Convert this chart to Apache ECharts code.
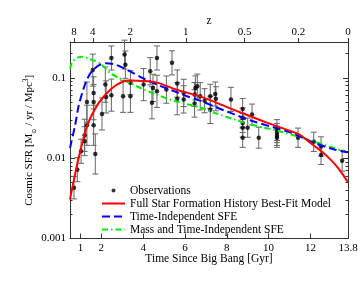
<!DOCTYPE html>
<html><head><meta charset="utf-8">
<script src="https://cdn.jsdelivr.net/npm/echarts@6/dist/echarts.min.js"></script>
<style>html,body{margin:0;padding:0;background:#fff}#c{width:363px;height:281px}</style>
</head><body><div id="c"></div>
<script>
// Observations: time [Gyr], SFR, error (dex)
const obsT=[0.69,0.85,1.03,1.20,1.20,1.31,1.31,1.63,1.63,1.63,1.59,1.71,2.03,2.19,2.23,2.48,2.48,3.04,3.11,3.15,3.39,3.39,
4.02,4.34,4.42,4.47,4.66,4.66,5.11,5.38,5.63,5.63,5.94,5.94,6.46,6.50,6.59,6.46,
6.73,6.94,7.21,7.21,7.45,7.48,8.20,8.76,8.76,8.76,8.76,8.76,9.00,9.21,9.53,
10.40,10.40,10.40,10.40,11.41,12.16,12.51,12.51,13.52];
const obsV=[0.0043,0.0072,0.0122,0.0163,0.0193,0.0257,0.050,0.050,0.065,0.0257,0.125,0.0113,0.0356,0.0825,0.058,0.177,0.061,0.059,0.195,0.146,0.087,0.059,
0.0825,0.121,0.049,0.075,0.177,0.068,0.0715,0.154,0.085,0.055,0.065,0.054,0.062,0.075,0.079,0.048,
0.059,0.052,0.059,0.040,0.063,0.055,0.054,0.041,0.032,0.0275,0.024,0.018,0.024,0.035,0.018,
0.0224,0.0206,0.019,0.018,0.018,0.016,0.014,0.011,0.0093];
const obsErr=[0.14,0.15,0.15,0.18,0.2,0.25,0.25,0.22,0.2,0.25,0.2,0.25,0.2,0.22,0.2,0.15,0.2,0.2,0.18,0.17,0.15,0.2,
0.2,0.17,0.2,0.17,0.15,0.2,0.17,0.15,0.17,0.2,0.17,0.17,0.15,0.15,0.15,0.17,
0.17,0.15,0.15,0.17,0.15,0.15,0.15,0.13,0.12,0.12,0.12,0.12,0.12,0.13,0.13,
0.13,0.12,0.12,0.12,0.12,0.12,0.12,0.12,0.13];

// Full Star Formation History Best-Fit Model
const fitT=[0.5,0.67,0.91,1.11,1.31,1.55,1.875,2.27,2.75,3.32,3.86,4.66,5.63,6.75,8.35,9.95,11.0,11.5,12.1,12.6,13.0,13.3,13.55,13.8];
const fitV=[0.00306,0.00515,0.0100,0.0163,0.0250,0.0348,0.0488,0.065,0.0825,0.0925,0.0918,0.0873,0.0708,0.0585,0.040,0.0275,0.0220,0.0196,0.0148,0.0118,0.0094,0.0077,0.0063,0.0050];
// Time-Independent SFE
const tiT=[0.5,0.75,0.91,1.11,1.31,1.55,1.875,2.2,2.6,3.0,3.4,4.0,4.8,5.5,6.1,6.83,7.4,9.15,11.07,12.12,13.15,13.8];
const tiV=[0.0134,0.0262,0.0444,0.0683,0.0952,0.121,0.143,0.152,0.148,0.135,0.12,0.099,0.08,0.068,0.059,0.051,0.044,0.0295,0.0208,0.0158,0.0128,0.0119];
// Mass and Time-Independent SFE
const mtiT=[0.5,0.59,0.74,0.89,1.07,1.46,1.94,2.42,2.9,3.38,4.02,4.66,5.46,6.26,6.83,7.38,8.99,10.59,12.19,13.48,13.8];
const mtiV=[0.13,0.154,0.172,0.180,0.183,0.171,0.152,0.115,0.098,0.086,0.072,0.0617,0.052,0.046,0.042,0.037,0.027,0.0214,0.0161,0.0125,0.0119];

// Axis ticks
const timeTicks=[1,2,4,6,8,10,12,13.8];
const zLabels=['8','4','2','1','0.5','0.2','0'];
const zTimes=[0.69,1.59,3.38,6.04,8.86,11.42,13.8];
const yMajor=[0.001,0.01,0.1];
const yMinor=[0.002,0.003,0.004,0.005,0.006,0.007,0.008,0.009,0.02,0.03,0.04,0.05,0.06,0.07,0.08,0.09,0.2];

const FONT='Liberation Serif';
const AX='#333';
const zip=(a,b)=>a.map((v,i)=>[v,b[i]]);

const errData=obsT.map((t,i)=>[t,obsV[i]*Math.pow(10,-obsErr[i]),obsV[i]*Math.pow(10,obsErr[i])]);

function yAx(pos,ticks,len,showLine,showLabel){
  return {type:'log',logBase:10,min:0.001,max:0.28,position:pos,
    axisLine:{show:showLine,lineStyle:{color:AX,width:1}},
    axisTick:{show:true,inside:true,length:len,customValues:ticks,lineStyle:{color:AX,width:1}},
    axisLabel:{show:showLabel,customValues:ticks,margin:4,fontFamily:FONT,fontSize:11,color:'#000',
      formatter:v=>String(+(+v).toPrecision(3))},
    splitLine:{show:false},minorTick:{show:false}};
}

const chart=echarts.init(document.getElementById('c'),null,{renderer:'canvas'});
const yMain=yAx('left',yMajor,5,true,true);
yMain.name='{a|Cosmic SFR [M}{s|⊙}{a| / yr / Mpc}{p|3}{a|]}';
yMain.nameLocation='middle';
yMain.nameGap=33;
yMain.nameMoveOverlap=false;
yMain.nameRotate=90;
yMain.nameTextStyle={fontFamily:FONT,color:'#000',rich:{
  a:{fontFamily:FONT,fontSize:11,color:'#000',lineHeight:15},
  s:{fontFamily:'DejaVu Sans',fontSize:6,color:'#000',lineHeight:8,verticalAlign:'bottom'},
  p:{fontFamily:FONT,fontSize:7.5,color:'#000',lineHeight:9,verticalAlign:'top'}}};

const hideSym={opacity:0};
chart.setOption({
  animation:false,
  backgroundColor:'#fff',
  grid:{left:70,right:15,top:42,bottom:42.5,containLabel:false},
  xAxis:[
    {type:'value',min:0.5,max:13.8,position:'bottom',
     axisLine:{show:true,onZero:false,lineStyle:{color:AX,width:1}},
     axisTick:{show:true,inside:true,length:5,customValues:timeTicks,lineStyle:{color:AX}},
     axisLabel:{customValues:timeTicks,margin:4,fontFamily:FONT,fontSize:11,color:'#000',formatter:v=>String(v)},
     splitLine:{show:false},
     name:'Time Since Big Bang [Gyr]',nameLocation:'middle',nameGap:14,nameMoveOverlap:false,
     nameTextStyle:{fontFamily:FONT,fontSize:11.5,color:'#000'}},
    {type:'value',min:0.5,max:13.8,position:'top',
     axisLine:{show:true,onZero:false,lineStyle:{color:AX,width:1}},
     axisTick:{show:true,inside:false,length:4,customValues:zTimes,lineStyle:{color:AX}},
     axisLabel:{customValues:zTimes,margin:4,fontFamily:FONT,fontSize:11,color:'#000',
       formatter:v=>{let bi=0;zTimes.forEach((z,i)=>{if(Math.abs(z-v)<Math.abs(zTimes[bi]-v))bi=i;});return zLabels[bi];}},
     splitLine:{show:false},
     name:'z',nameLocation:'middle',nameGap:15,nameMoveOverlap:false,
     nameTextStyle:{fontFamily:FONT,fontSize:11.5,color:'#000'}}
  ],
  yAxis:[yMain,yAx('left',yMinor,2.5,false,false),yAx('right',yMajor,5,true,false),yAx('right',yMinor,2.5,false,false)],
  legend:{orient:'vertical',left:96,top:179.5,itemWidth:23,itemHeight:12,itemGap:1,
    textStyle:{fontFamily:FONT,fontSize:11.5,color:'#000'},
    data:[
      {name:'Observations',icon:'path://M0,0M23,12M13.5,6a2,2 0 1,1 -4,0a2,2 0 1,1 4,0z'},
      {name:'Full Star Formation History Best-Fit Model',itemStyle:hideSym},
      {name:'Time-Independent SFE',itemStyle:hideSym},
      {name:'Mass and Time-Independent SFE',itemStyle:hideSym}]},
  series:[
    {type:'custom',name:'err',xAxisIndex:0,yAxisIndex:0,z:1,data:errData,
     renderItem:(params,api)=>{
       const lo=api.coord([api.value(0),api.value(1)]);
       const hi=api.coord([api.value(0),api.value(2)]);
       const w=3;
       const st={stroke:'#666',lineWidth:1};
       return {type:'group',children:[
         {type:'line',shape:{x1:lo[0],y1:lo[1],x2:hi[0],y2:hi[1]},style:st},
         {type:'line',shape:{x1:lo[0]-w,y1:lo[1],x2:lo[0]+w,y2:lo[1]},style:st},
         {type:'line',shape:{x1:hi[0]-w,y1:hi[1],x2:hi[0]+w,y2:hi[1]},style:st}]};
     }},
    {type:'scatter',name:'Observations',z:2,symbol:'circle',symbolSize:4.5,itemStyle:{color:'#000'},data:zip(obsT,obsV)},
    {type:'line',name:'Full Star Formation History Best-Fit Model',z:5,data:zip(fitT,fitV),smooth:0.3,showSymbol:false,symbol:'none',
     itemStyle:{color:'#ff0000'},lineStyle:{color:'#ff0000',width:2}},
    {type:'line',name:'Time-Independent SFE',z:4,data:zip(tiT,tiV),smooth:0.3,showSymbol:false,symbol:'none',
     itemStyle:{color:'#0000ff'},lineStyle:{color:'#0000ff',width:2,type:[8,4]}},
    {type:'line',name:'Mass and Time-Independent SFE',z:3,data:zip(mtiT,mtiV),smooth:0.3,showSymbol:false,symbol:'none',
     itemStyle:{color:'#00ee00'},lineStyle:{color:'#00ee00',width:2,type:[6,3,1.5,3]}}
  ]
});
</script></body></html>
